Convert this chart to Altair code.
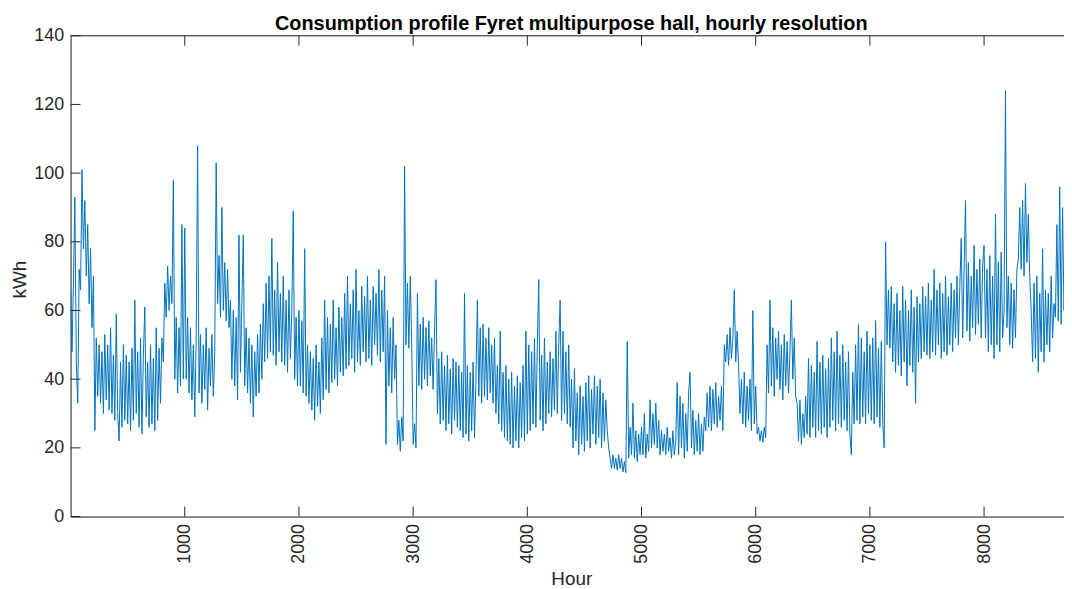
import altair as alt
import pandas as pd

step = 12.5
kwh_0000 = [65, 48, 68, 93, 45, 33, 72, 66, 101, 78, 92, 70, 85, 62, 78, 55, 70, 25, 52, 35,
            50, 33, 48, 30, 53, 34, 50, 31, 55, 30, 47, 28, 59, 30, 22, 45, 26, 50, 28, 47,
            27, 45, 25, 49, 28, 63, 30, 48, 26, 52, 24, 47, 61, 29, 45, 26, 50, 27, 46, 25,
            55, 28, 49, 33, 52, 45, 68, 58, 73, 60, 70, 62, 98, 40, 58, 36, 55, 38, 85, 40]
kwh_1000 = [84, 40, 58, 36, 55, 34, 50, 29, 52, 108, 36, 53, 33, 50, 37, 55, 31, 49, 38, 53,
            35, 48, 103, 62, 76, 58, 90, 60, 74, 57, 72, 55, 63, 40, 60, 38, 58, 34, 82, 42,
            62, 82, 38, 55, 36, 52, 33, 50, 29, 48, 35, 53, 36, 56, 40, 62, 45, 68, 46, 70,
            48, 81, 47, 66, 44, 74, 48, 65, 45, 70, 44, 63, 42, 66, 46, 60, 89, 40, 58, 38]
kwh_2000 = [60, 38, 57, 36, 78, 35, 50, 33, 48, 31, 46, 28, 50, 32, 45, 30, 52, 34, 63, 37,
            58, 36, 56, 39, 63, 40, 55, 38, 61, 42, 58, 41, 65, 43, 70, 44, 62, 46, 66, 42,
            72, 45, 60, 44, 67, 48, 64, 45, 70, 46, 63, 44, 67, 50, 65, 47, 72, 45, 66, 48,
            70, 21, 60, 38, 55, 36, 58, 40, 50, 21, 28, 19, 29, 22, 102, 50, 68, 49, 70, 50]
kwh_3000 = [21, 27, 20, 65, 38, 56, 37, 58, 40, 55, 38, 57, 41, 52, 37, 54, 69, 30, 46, 27,
            48, 28, 44, 25, 47, 27, 43, 24, 46, 28, 45, 26, 44, 25, 42, 23, 65, 24, 44, 22,
            42, 25, 45, 23, 40, 63, 35, 55, 33, 56, 35, 52, 34, 55, 36, 50, 33, 52, 30, 44,
            27, 54, 25, 42, 23, 44, 22, 40, 21, 42, 20, 38, 22, 41, 20, 39, 23, 44, 22, 54]
kwh_4000 = [24, 50, 25, 48, 27, 52, 26, 50, 69, 28, 47, 25, 52, 27, 45, 30, 48, 29, 46, 31,
            54, 30, 50, 63, 28, 54, 30, 48, 27, 50, 26, 40, 20, 43, 22, 36, 18, 38, 21, 35,
            19, 39, 22, 41, 20, 37, 24, 41, 21, 38, 23, 40, 20, 36, 22, 34, 25, 20, 17, 14,
            18, 14, 17, 13.5, 18, 14, 17, 13, 16, 12.8, 51, 17, 26, 18, 33, 17, 25, 16, 24, 18]
kwh_5000 = [26, 18, 30, 17, 24, 19, 34, 20, 30, 21, 33, 20, 28, 18, 25, 19, 24, 18, 26, 19,
            23, 17, 25, 18, 22, 39, 18, 35, 20, 33, 17, 30, 19, 36, 42, 20, 31, 18, 28, 19,
            30, 18, 27, 19, 29, 25, 36, 26, 38, 25, 37, 27, 39, 26, 35, 28, 38, 25, 50, 45,
            53, 44, 55, 46, 52, 66, 45, 54, 44, 30, 40, 27, 42, 26, 38, 28, 40, 25, 60, 27]
kwh_6000 = [38, 24, 26, 22, 25, 21.6, 26, 23, 50, 36, 63, 38, 55, 35, 52, 40, 54, 37, 50, 34,
            53, 38, 51, 36, 48, 63, 40, 52, 35, 33, 22, 34, 21, 30, 23, 35, 24, 46, 23, 44,
            26, 42, 23, 51, 25, 45, 24, 47, 26, 43, 23, 46, 26, 52, 28, 48, 25, 54, 27, 47,
            26, 50, 28, 45, 25, 48, 24, 18, 42, 27, 50, 28, 56, 27, 52, 29, 48, 27, 54, 30]
kwh_7000 = [50, 28, 52, 27, 57, 29, 49, 26, 51, 28, 20, 80, 50, 66, 49, 67, 45, 62, 42, 65,
            44, 60, 41, 67, 45, 63, 38, 60, 44, 66, 42, 61, 33, 64, 45, 62, 46, 67, 48, 64,
            47, 68, 46, 63, 48, 72, 47, 66, 50, 68, 46, 65, 48, 70, 47, 64, 50, 68, 48, 66,
            52, 70, 50, 67, 81, 52, 72, 92, 54, 74, 51, 70, 55, 79, 53, 72, 56, 75, 52, 73]
kwh_8000 = [79, 52, 72, 48, 76, 50, 70, 46, 88, 50, 74, 48, 77, 52, 60, 124, 55, 70, 50, 68,
            49, 66, 52, 72, 75, 90, 72, 92, 70, 97, 74, 88, 70, 60, 45, 68, 46, 70, 42, 65,
            48, 78, 45, 66, 50, 65, 48, 70, 52, 62, 58, 85, 57, 96, 56, 90, 60, 85, 55, 80,
            58]

x_ticks = [1000, 2000, 3000, 4000, 5000, 6000, 7000, 8000]
y_ticks = [0, 20, 40, 60, 80, 100, 120, 140]

chunks = [(0, kwh_0000), (1000, kwh_1000), (2000, kwh_2000), (3000, kwh_3000),
          (4000, kwh_4000), (5000, kwh_5000), (6000, kwh_6000), (7000, kwh_7000),
          (8000, kwh_8000)]
rows = []
for start, vals in chunks:
    for i, v in enumerate(vals):
        rows.append({"hour": start + step * i, "kwh": v})
df = pd.DataFrame(rows)

W, H = 1000, 484
AX = "#262626"
FONT = "Liberation Sans"

xscale = alt.Scale(domain=[0, 8700], nice=False, zero=False)
yscale = alt.Scale(domain=[0, 140], nice=False)

line = alt.Chart(df).mark_line(color="#0072BD", strokeWidth=1, clip=True).encode(
    x=alt.X("hour:Q", scale=xscale, axis=alt.Axis(
        values=x_ticks, format="d", labelAngle=270, ticks=False, grid=False,
        domainColor=AX, domainWidth=1, labelColor=AX, labelFont=FONT, labelFontSize=18,
        labelPadding=7, labelFlush=False, labelOverlap=False,
        title="Hour", titleFont=FONT, titleFontSize=19, titleFontWeight="normal",
        titleColor=AX, titleBaseline="alphabetic", titleX=504, titleY=68)),
    y=alt.Y("kwh:Q", scale=yscale, axis=alt.Axis(
        values=y_ticks, ticks=False, grid=False,
        domainColor=AX, domainWidth=1, labelColor=AX, labelFont=FONT, labelFontSize=18,
        labelPadding=7, labelFlush=False, labelOverlap=False,
        title="kWh", titleFont=FONT, titleFontSize=19, titleFontWeight="normal",
        titleColor=AX, titleBaseline="alphabetic", titleAngle=270, titleX=-45, titleY=245)),
)

ytick_df = pd.DataFrame({"v": y_ticks})
xtick_df = pd.DataFrame({"v": x_ticks})

ytick_marks = alt.Chart(ytick_df).mark_rule(color=AX, strokeWidth=1).encode(
    y=alt.Y("v:Q", scale=yscale, axis=None), x=alt.value(0), x2=alt.value(10))
xtick_bottom = alt.Chart(xtick_df).mark_rule(color=AX, strokeWidth=1).encode(
    x=alt.X("v:Q", scale=xscale, axis=None), y=alt.value(H - 10), y2=alt.value(H))
xtick_top = alt.Chart(xtick_df).mark_rule(color=AX, strokeWidth=1).encode(
    x=alt.X("v:Q", scale=xscale, axis=None), y=alt.value(0), y2=alt.value(10))
top_border = alt.Chart(pd.DataFrame({"a": [0]})).mark_rule(color=AX, strokeWidth=1).encode(
    x=alt.value(0), x2=alt.value(W), y=alt.value(0))

chart = alt.layer(line, ytick_marks, xtick_bottom, xtick_top, top_border).resolve_axis(
    x="independent", y="independent"
).properties(
    width=W, height=H,
    title=alt.TitleParams(
        "Consumption profile Fyret multipurpose hall, hourly resolution",
        font=FONT, fontSize=20, fontWeight="bold", color="black",
        anchor="middle", frame="group", baseline="alphabetic", offset=7, dx=4, dy=30),
    padding={"left": 63, "top": 26, "right": 0, "bottom": 70},
    autosize=alt.AutoSizeParams(type="none"),
).configure_view(stroke=None).configure(background="white")

chart.save("out.html", embed_options={"renderer": "svg", "actions": False})
